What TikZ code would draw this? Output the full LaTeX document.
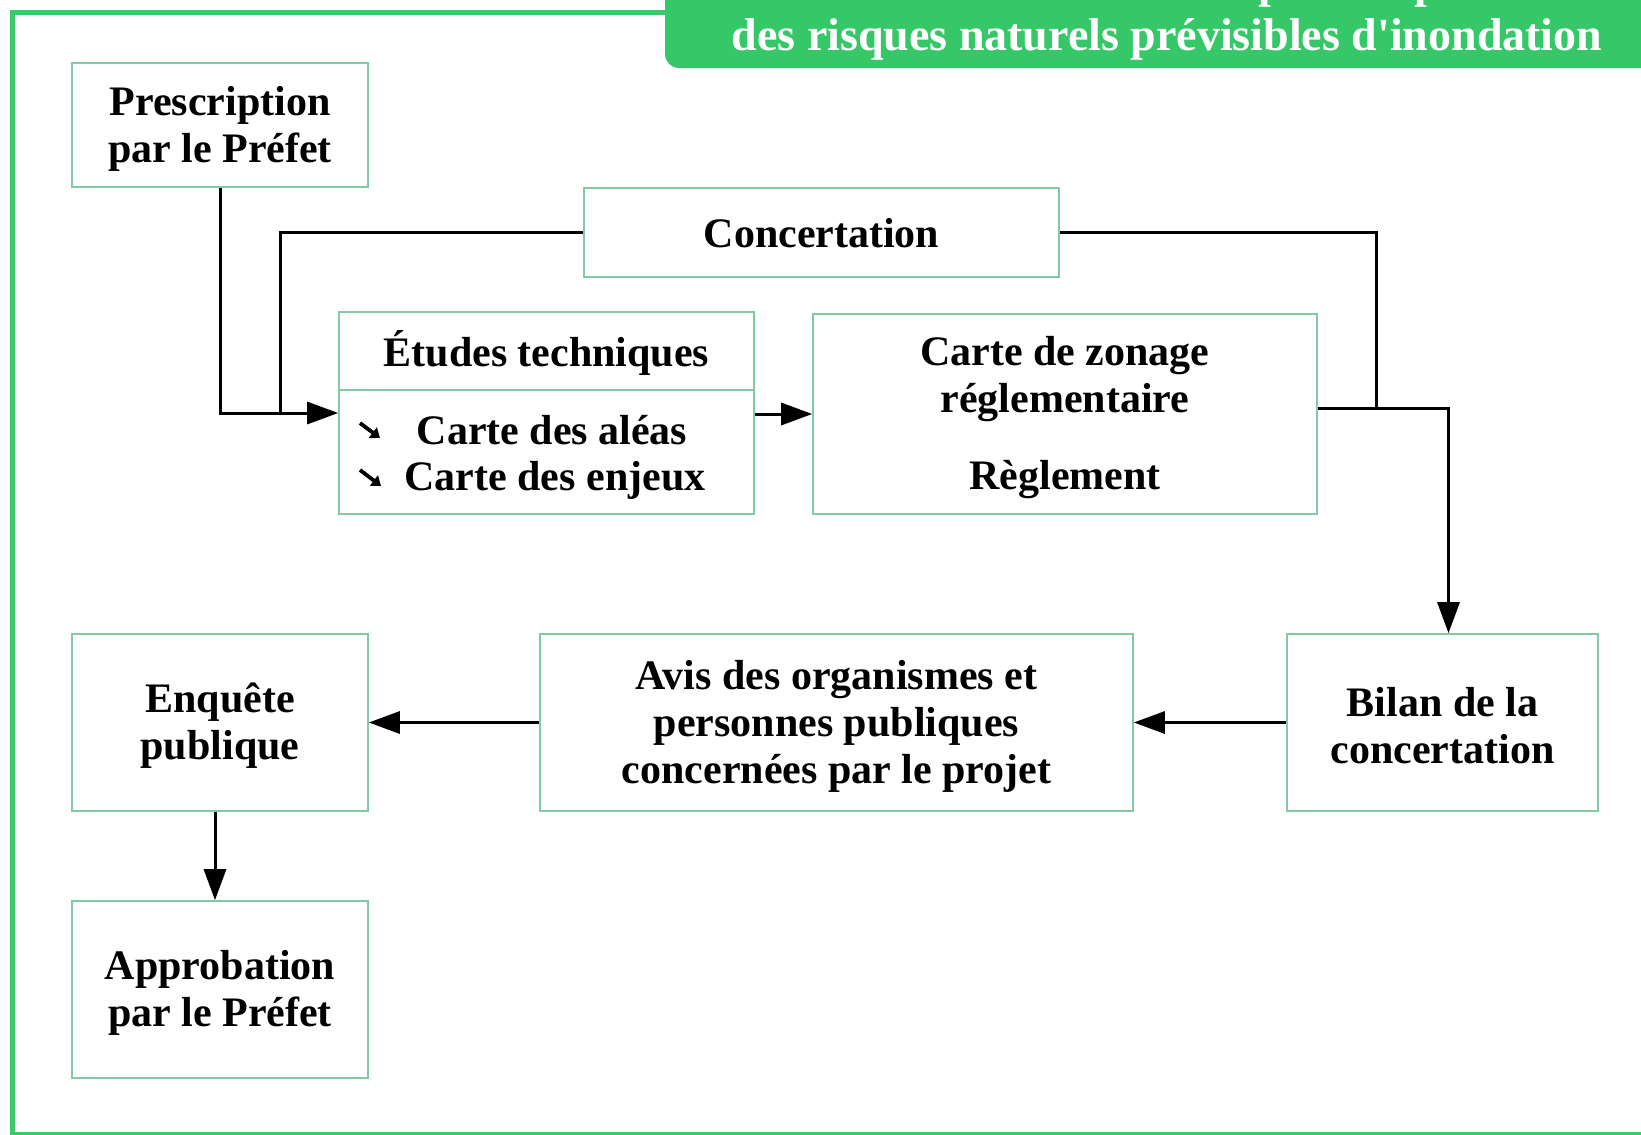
\documentclass[tikz,border=0pt]{standalone}
\usepackage{fontspec}
\setmainfont{Liberation Serif}
\newfontfamily\ttlfont{Liberation Serif}
\usetikzlibrary{arrows.meta}
\definecolor{framegreen}{HTML}{3FC86B}
\definecolor{titlegreen}{HTML}{36C868}
\definecolor{boxgreen}{HTML}{84C9A6}
\begin{document}
\begin{tikzpicture}[x=1pt,y=-1pt,
  box/.style={draw=boxgreen, line width=1.6pt, fill=white, inner sep=0pt},
  txt/.style={font=\fontsize{42}{47}\selectfont\bfseries, align=center, inner sep=0pt},
  ttl/.style={font=\ttlfont\fontsize{46}{46}\selectfont\bfseries, text=white, inner sep=0pt, anchor=base},
  conn/.style={line width=3pt, black},
  arr/.style={conn, -{Triangle[length=31pt,width=22pt]}},
  bul/.style={line width=3.8pt, black, -{Triangle[length=9pt,width=13pt]}}
]
\useasboundingbox (0,0) rectangle (1641,1135);
\begin{scope}
\clip (0,0) rectangle (1641,1135);
\fill[white] (0,0) rectangle (1641,1135);
\draw[framegreen, line width=4.5pt] (12.5,12.5) rectangle (1700,1134);
\fill[titlegreen, rounded corners=14pt] (665,-30) -- (665,68) -- (1700,68) -- (1700,-30) -- cycle;
\node[ttl] (title1) at (1167,-2) {Procédure d'élaboration du plan de prévention};
\node[ttl] (title2) at (1167,50) {des risques naturels prévisibles d'inondation};
\end{scope}

% boxes
\node[box, minimum width=296pt, minimum height=124pt] (presc) at (220,125) {};
\node[txt] (prescT) at (220,129) {Prescription\\par le Préfet};
\node[box, minimum width=475pt, minimum height=89pt] (conc) at (821.5,232.5) {};
\node[txt] (concT) at (821.5,233.5) {Concertation};
\node[box, minimum width=415pt, minimum height=78pt] (etudesT) at (546.5,351) {};
\node[txt] (etudesTT) at (546.5,353) {Études techniques};
\node[box, minimum width=415pt, minimum height=124pt] (etudesB) at (546.5,452) {};
\node[txt, anchor=base] (alea) at (552,444) {Carte des aléas};
\node[txt, anchor=base] (enjeux) at (555,490) {Carte des enjeux};
\coordinate (b1s) at (360,423);
\coordinate (b1e) at (380,438);
\coordinate (b2s) at (360,470);
\coordinate (b2e) at (381,486);
\draw[bul] (b1s) -- (b1e);
\draw[bul] (b2s) -- (b2e);
\node[box, minimum width=504pt, minimum height=200pt] (zonage) at (1065,414) {};
\node[txt] (zonageT) at (1065,418) {Carte de zonage\\réglementaire\\[30pt]Règlement};
\node[box, minimum width=311pt, minimum height=177pt] (bilan) at (1442.5,722.5) {};
\node[txt] (bilanT) at (1442.5,726) {Bilan de la\\concertation};
\node[box, minimum width=593pt, minimum height=177pt] (avis) at (836.5,722.5) {};
\node[txt] (avisT) at (836.5,726.5) {Avis des organismes et\\personnes publiques\\concernées par le projet};
\node[box, minimum width=296pt, minimum height=177pt] (enq) at (220,722.5) {};
\node[txt] (enqT) at (220,726) {Enquête\\publique};
\node[box, minimum width=296pt, minimum height=177pt] (appro) at (220,989.5) {};
\node[txt] (approT) at (220,993) {Approbation\\par le Préfet};

% connectors
\coordinate (m1) at (280,413);
\coordinate (m2) at (1376,408);
\draw[arr] (presc.south) |- ([yshift=39pt]etudesB.west);
\draw[conn] (conc.west) -| (m1);
\draw[conn] (conc.east) -| (m2);
\draw[arr] ([yshift=38pt]etudesB.east) -- ([yshift=38pt]etudesB.east -| zonage.west);
\draw[arr] ([yshift=6pt]zonage.east) -| ([xshift=6pt]bilan.north);
\draw[arr] (bilan.west) -- (avis.east);
\draw[arr] (avis.west) -- (enq.east);
\draw[arr] ([xshift=-5pt]enq.south) -- ([xshift=-5pt]appro.north);
\end{tikzpicture}
\end{document}
